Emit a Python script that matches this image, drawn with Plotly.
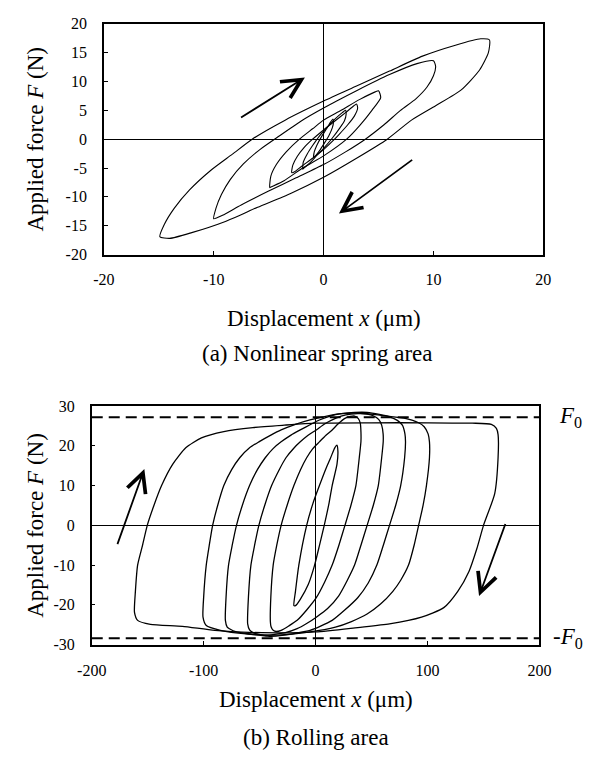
import plotly.graph_objects as go

# ---------------- (a) Nonlinear spring area : loops (x in um, F in N) ----------------
a1_x = [-14.9, -14.5, -13.6, -12.2, -10.2, -8.3, -6.5, -3.5, 0.0, 3.0, 6.0, 9.0, 12.0, 14.3, 15.1,
        15.0, 14.2, 12.5, 10.2, 8.0, 5.8, 3.0, 0.0, -3.0, -6.0, -9.0, -12.0, -14.0, -14.9]
a1_f = [-16.9, -14.8, -12.0, -8.8, -5.3, -2.6, 0.0, 3.3, 6.6, 9.2, 11.8, 14.4, 16.3, 17.4, 17.2,
        15.0, 12.0, 8.5, 5.8, 3.3, 0.0, -3.3, -6.6, -9.4, -11.8, -14.3, -16.2, -17.2, -16.9]

a2_x = [-10.0, -9.8, -9.3, -8.5, -7.3, -5.8, -4.0, -2.0, 0.0, 3.0, 6.0, 8.5, 10.0,
        10.2, 10.0, 9.4, 8.4, 7.0, 5.5, 3.8, 2.0, 0.0, -2.5, -5.0, -7.5, -9.2, -10.0]
a2_f = [-13.8, -12.0, -9.6, -7.0, -4.3, -1.8, 0.6, 3.2, 5.4, 8.4, 11.2, 13.1, 13.6,
        12.6, 11.0, 9.0, 7.0, 5.0, 2.5, 0.0, -2.2, -4.4, -6.7, -9.0, -11.4, -13.2, -13.8]

a3_x = [-4.9, -4.8, -4.3, -3.4, -2.2, -1.0, 0.0, 1.6, 3.3, 4.7, 5.0,
        5.2, 4.4, 3.3, 2.1, 0.0, -1.9, -3.6, -4.8, -4.9]
a3_f = [-8.4, -6.4, -4.4, -2.2, 0.0, 1.8, 3.3, 5.0, 6.9, 8.2, 8.4,
        7.2, 5.0, 2.4, 0.0, -2.9, -5.0, -7.2, -8.3, -8.4]

a4_x = [-2.9, -2.8, -2.4, -1.8, -1.0, 0.0, 1.0, 2.0, 2.7, 3.0,
        3.1, 2.8, 2.2, 1.4, 1.0, 0.0, -1.0, -2.0, -2.6, -2.9]
a4_f = [-5.8, -4.5, -3.0, -1.5, 0.0, 1.6, 3.1, 4.6, 5.7, 6.1,
        5.4, 4.0, 2.5, 0.8, 0.0, -1.8, -3.3, -4.7, -5.6, -5.8]

a5_x = [-1.9, -1.85, -1.5, -1.0, -0.4, 0.3, 1.1, 1.7, 2.0,
        2.05, 1.9, 1.5, 0.8, 0.0, -0.7, -1.3, -1.8, -1.9]
a5_f = [-5.2, -4.0, -2.6, -1.1, 0.5, 2.0, 3.6, 4.6, 5.0,
        4.3, 3.2, 2.0, 0.2, -1.6, -3.0, -4.2, -5.0, -5.2]

a6_x = [-0.9, -0.85, -0.6, -0.2, 0.3, 0.65, 0.85,
        0.9, 0.8, 0.5, 0.1, -0.3, -0.7, -0.9]
a6_f = [-3.2, -2.2, -1.0, 0.4, 1.9, 3.0, 3.5,
        3.0, 2.0, 0.7, -0.6, -1.8, -2.8, -3.2]

# arrows (tail -> head)
a_arrows = [((-7.65, 3.6), (-1.7, 10.7)), ((8.2, -3.4), (1.4, -12.9))]

# ---------------- (b) Rolling area ----------------
b1_x = [-161.8, -161.0, -159.0, -154.7, -150.4, -144.7, -137.6, -127.6, -116.0, -102.0, -82.0,
        -56.0, -28.0, 0.0, 50.0, 100.0, 140.0, 157.0, 161.5, 163.0, 163.0, 160.0, 150.0, 144.0,
        137.0, 127.0, 114.5, 94.6, 66.0, 37.6, 0.0, -48.0, -90.0, -119.0, -147.6, -159.0, -161.8]
b1_f = [-21.9, -16.6, -10.0, -5.1, 0.0, 4.8, 10.0, 15.4, 19.5, 22.0, 23.6,
        24.6, 25.2, 25.7, 25.8, 25.8, 25.7, 25.4, 24.4, 22.8, 17.0, 8.0, 0.0, -5.9,
        -11.6, -16.6, -20.7, -23.1, -24.8, -25.7, -26.8, -27.0, -26.4, -25.4, -24.9, -23.9, -21.9]

b2_x = [-100.6, -100.0, -97.7, -95.0, -92.0, -87.5, -82.0, -75.0, -67.8, -59.0, -50.7, -40.0,
        -30.8, -18.0, -5.0, 10.0, 23.0, 40.0, 52.0, 66.0, 80.0, 92.0, 97.0, 100.5, 101.7, 101.7,
        99.0, 96.0, 92.0, 88.0, 83.0, 76.0, 69.0, 58.0, 46.0, 32.0, 17.7, -5.0, -33.6, -62.0,
        -85.0, -97.7, -100.6]
b2_f = [-23.1, -18.0, -10.0, -5.0, 0.0, 5.0, 10.0, 14.0, 17.0, 19.5, 21.0, 22.7,
        24.0, 25.4, 26.5, 27.5, 28.1, 28.2, 27.9, 27.4, 26.9, 25.8, 24.8, 23.0, 21.0, 17.0,
        10.0, 5.0, 0.0, -5.0, -10.0, -13.8, -16.6, -19.8, -22.3, -24.2, -25.6, -26.8, -27.6, -27.3,
        -26.4, -25.2, -23.1]

b3_x = [-80.6, -80.0, -77.8, -74.5, -70.7, -65.5, -59.0, -52.0, -45.0, -38.0, -30.8, -22.0,
        -13.7, -5.0, 3.4, 13.0, 23.0, 35.0, 46.0, 57.0, 66.0, 73.0, 77.5, 79.8, 80.3, 79.5,
        76.0, 71.5, 66.0, 60.5, 54.7, 47.0, 37.6, 26.0, 14.8, 4.0, -5.0, -17.0, -28.0, -40.0,
        -50.7, -62.0, -70.7, -77.0, -79.0, -80.6]
b3_f = [-23.9, -18.0, -10.0, -5.0, 0.0, 5.0, 10.0, 14.0, 17.0, 19.3, 21.0, 22.7,
        24.0, 25.3, 26.5, 27.5, 28.1, 28.4, 28.4, 27.9, 27.3, 26.4, 25.2, 23.0, 21.1, 17.0,
        10.0, 5.0, 0.0, -5.0, -10.0, -14.5, -18.2, -21.3, -23.9, -25.4, -26.4, -27.1, -27.6, -27.9,
        -27.6, -27.2, -26.8, -26.0, -25.6, -23.9]

b4_x = [-60.7, -60.0, -57.8, -54.5, -50.7, -45.5, -39.3, -32.5, -26.5, -19.5, -13.7, -7.0,
        0.6, 8.0, 17.7, 27.0, 37.6, 46.0, 52.0, 56.5, 59.0, 60.3, 60.4, 59.0, 56.0, 51.5,
        46.0, 40.5, 34.8, 28.0, 20.5, 10.5, 0.6, -8.0, -16.5, -27.0, -36.5, -45.0, -50.7,
        -56.0, -59.0, -60.7]
b4_f = [-24.8, -18.0, -10.0, -5.0, 0.0, 5.0, 10.0, 14.0, 17.0, 19.4, 21.0, 22.6,
        24.0, 25.5, 26.9, 27.8, 28.1, 28.0, 27.5, 26.6, 25.2, 23.0, 21.1, 17.0, 10.0, 5.0,
        0.0, -5.0, -10.0, -14.0, -17.8, -21.0, -23.1, -24.7, -26.0, -27.0, -27.4, -27.7, -27.4,
        -27.0, -26.3, -24.8]

b5_x = [-40.4, -40.0, -37.9, -34.7, -30.8, -25.5, -19.4, -13.5, -8.0, -2.5, 3.4, 9.0,
        14.8, 20.0, 26.2, 31.0, 34.8, 38.0, 39.9, 40.5, 40.5, 39.0, 36.0, 31.5, 26.2, 20.8,
        14.8, 8.0, 0.6, -8.0, -16.5, -24.0, -30.8, -35.0, -37.9, -39.8, -40.4]
b5_f = [-24.3, -18.0, -10.0, -5.0, 0.0, 5.0, 10.0, 14.0, 17.0, 19.3, 21.0, 22.6,
        24.0, 25.5, 26.9, 27.4, 27.5, 26.9, 25.7, 23.5, 21.1, 17.0, 10.0, 5.0, 0.0, -5.0,
        -10.0, -14.3, -18.2, -21.3, -23.9, -25.3, -26.4, -26.7, -26.4, -25.5, -24.3]

b6_x = [-19.4, -18.0, -15.0, -8.0, -2.3, 3.4, 9.1, 13.4, 17.1, 19.0,
        19.9, 19.1, 14.8, 12.0, 7.7, 3.4, -0.9, -6.6, -13.7, -18.0, -19.4]
b6_f = [-20.2, -16.6, -10.0, 0.0, 5.6, 10.0, 14.2, 17.0, 19.5, 20.2,
        18.7, 15.4, 10.0, 5.6, 0.0, -5.1, -10.0, -14.9, -18.6, -20.2, -20.2]

f0_pos = 27.2
f0_neg = -28.4
b_arrows = [((-177.5, -5.1), (-153.0, 14.2)), ((170.0, 0.7), (146.0, -17.8))]

a_xticks = [-20, -10, 0, 10, 20]
a_yticks = [-20, -15, -10, -5, 0, 5, 10, 15, 20]
b_xticks = [-200, -100, 0, 100, 200]
b_yticks = [-30, -20, -10, 0, 10, 20, 30]

# ---------------- figure ----------------
W, H = 596, 760
OFF = 8  # default page body margin
FONT = "Liberation Serif"

def px_x(p):
    return (p - OFF) / W

def px_y(p):
    return 1 - (p - OFF) / H

fig = go.Figure()

for lx, lf in [(a1_x, a1_f), (a2_x, a2_f), (a3_x, a3_f), (a4_x, a4_f), (a5_x, a5_f), (a6_x, a6_f)]:
    fig.add_trace(go.Scatter(x=lx, y=lf, mode="lines", xaxis="x", yaxis="y",
                             line=dict(color="black", width=1.1, shape="spline", smoothing=0.6),
                             showlegend=False, hoverinfo="skip"))

for lx, lf in [(b1_x, b1_f), (b2_x, b2_f), (b3_x, b3_f), (b4_x, b4_f), (b5_x, b5_f), (b6_x, b6_f)]:
    fig.add_trace(go.Scatter(x=lx, y=lf, mode="lines", xaxis="x2", yaxis="y2",
                             line=dict(color="black", width=1.3, shape="spline", smoothing=0.6),
                             showlegend=False, hoverinfo="skip"))

for lvl in (f0_pos, f0_neg):
    fig.add_trace(go.Scatter(x=[b_xticks[0], b_xticks[-1]], y=[lvl, lvl], mode="lines",
                             xaxis="x2", yaxis="y2",
                             line=dict(color="black", width=2, dash="11px,6px"),
                             showlegend=False, hoverinfo="skip"))

axis_common = dict(showline=True, mirror=True, linecolor="black", linewidth=1.5,
                   ticks="inside", ticklen=4, tickcolor="black", showgrid=False,
                   zeroline=True, zerolinecolor="black", zerolinewidth=1,
                   tickfont=dict(family=FONT, size=16, color="black"))

def labels(vals):
    return [str(v) for v in vals]  # plain hyphen-minus as in the original

top_box = (92.7, 553.0, 16.0, 252.0)   # screen px: left, right, top, bottom
bot_box = (80.0, 549.0, 407.0, 651.0)

fig.update_layout(
    width=W, height=H, margin=dict(l=0, r=0, t=0, b=0),
    paper_bgcolor="white", plot_bgcolor="white",
    font=dict(family=FONT, color="black"),
    xaxis=dict(domain=[px_x(top_box[0]), px_x(top_box[1])], range=[-20, 20], anchor="y",
               tickvals=a_xticks, ticktext=labels(a_xticks), ticklabelstandoff=10, **axis_common),
    yaxis=dict(domain=[px_y(top_box[3]), px_y(top_box[2])], range=[-20, 20], anchor="x",
               tickvals=a_yticks, ticktext=labels(a_yticks), ticklabelstandoff=12, **axis_common),
    xaxis2=dict(domain=[px_x(bot_box[0]), px_x(bot_box[1])], range=[-200, 200], anchor="y2",
                tickvals=b_xticks, ticktext=labels(b_xticks), ticklabelstandoff=10, **axis_common),
    yaxis2=dict(domain=[px_y(bot_box[3]), px_y(bot_box[2])], range=[-30, 30], anchor="x2",
                tickvals=b_yticks, ticktext=labels(b_yticks), ticklabelstandoff=12, **axis_common),
)

ann = []
for (t, h) in a_arrows:
    ann.append(dict(x=h[0], y=h[1], ax=t[0], ay=t[1], xref="x", yref="y", axref="x", ayref="y",
                    text="", showarrow=True, arrowhead=5, arrowsize=2.1, arrowwidth=1.8,
                    arrowcolor="black"))
for (t, h) in b_arrows:
    ann.append(dict(x=h[0], y=h[1], ax=t[0], ay=t[1], xref="x2", yref="y2", axref="x2", ayref="y2",
                    text="", showarrow=True, arrowhead=5, arrowsize=2.1, arrowwidth=1.8,
                    arrowcolor="black"))

tfont = dict(family=FONT, size=23, color="black")
xmid_top = px_x((top_box[0] + top_box[1]) / 2)
xmid_bot = px_x((bot_box[0] + bot_box[1]) / 2)

def text_ann(x, y, text, **kw):
    d = dict(x=x, y=y, xref="paper", yref="paper", showarrow=False, text=text, font=tfont,
             xanchor="center", yanchor="middle")
    d.update(kw)
    return d

ann += [
    text_ann(xmid_top, px_y(317), "Displacement <i>x</i> (\u03bcm)"),
    text_ann(xmid_top - 0.01, px_y(353), "(a) Nonlinear spring area"),
    text_ann(px_x(21), px_y((top_box[2] + top_box[3]) / 2), "Applied force <i>F</i> (N)",
             textangle=-90),
    text_ann(xmid_bot, px_y(707), "Displacement <i>x</i> (\u03bcm)"),
    text_ann(xmid_bot, px_y(746), "(b) Rolling area"),
    text_ann(px_x(21), px_y((bot_box[2] + bot_box[3]) / 2), "Applied force <i>F</i> (N)",
             textangle=-90),
    dict(x=px_x(567), y=f0_pos, xref="paper", yref="y2", showarrow=False, xanchor="left",
         yanchor="middle", text="<i>F</i><sub>0</sub>", font=tfont),
    dict(x=px_x(561), y=f0_neg, xref="paper", yref="y2", showarrow=False, xanchor="left",
         yanchor="middle", text="-<i>F</i><sub>0</sub>", font=tfont),
]
fig.update_layout(annotations=ann)

fig.write_html("out.html")
